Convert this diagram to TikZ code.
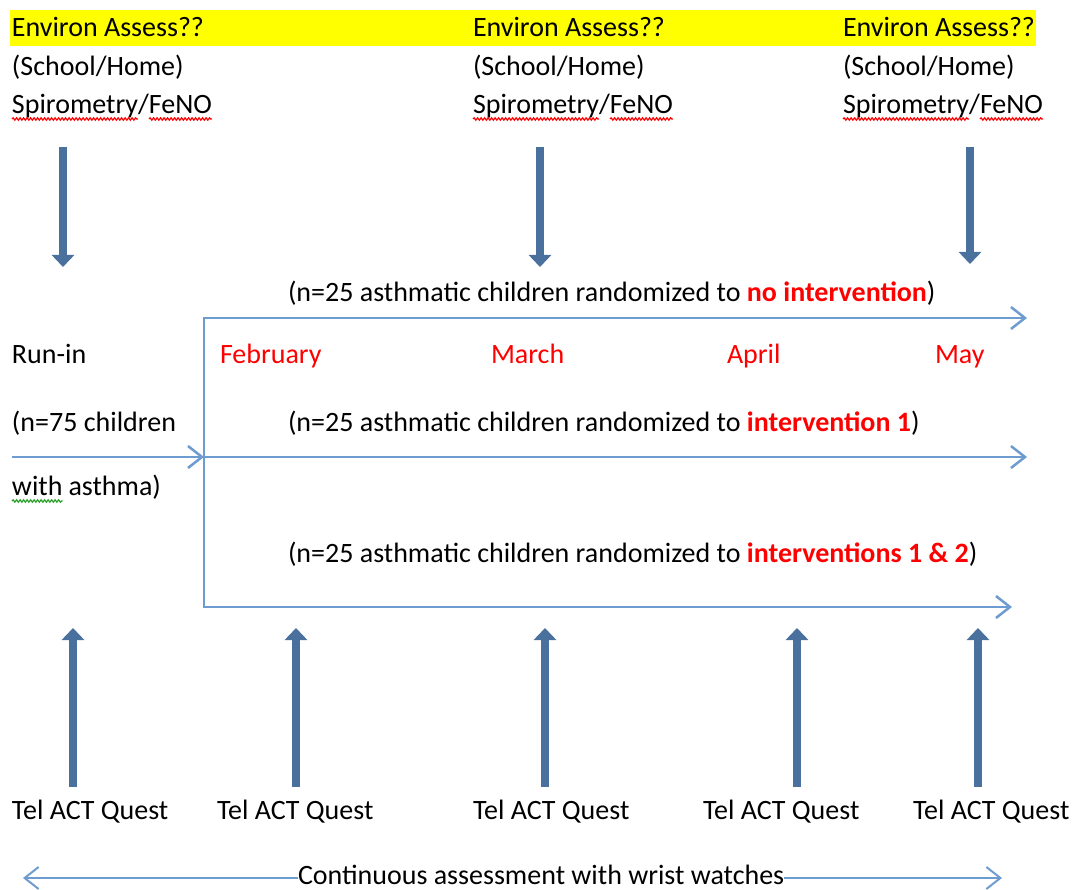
\documentclass[tikz,border=0pt]{standalone}
\usepackage{fontspec}
\setmainfont{Carlito}
\usetikzlibrary{arrows.meta,decorations.pathmorphing,calc}
\definecolor{thickblue}{RGB}{74,112,158}
\definecolor{thinblue}{RGB}{110,155,208}
\definecolor{hlyellow}{RGB}{255,255,0}
\definecolor{monthred}{RGB}{255,0,0}
\definecolor{spellgreen}{RGB}{40,160,40}
\begin{document}
\begin{tikzpicture}[x=1pt,y=-1pt,
  every node/.style={inner sep=0pt,outer sep=0pt,font=\fontsize{28}{33}\selectfont},
  txt/.style={anchor=base west},
  month/.style={anchor=base west,text=monthred},
  fatarrow/.style={draw=thickblue,line width=8pt,-{Triangle[width=22pt,length=12pt]}},
  thinarrow/.style={draw=thinblue,line width=2.5pt,-{Straight Barb[length=14pt,width=22pt]}},
  thinline/.style={draw=thinblue,line width=2.5pt},
  spell/.style={draw=#1,line width=1.2pt,decorate,decoration={snake,amplitude=1.2pt,segment length=3.5pt}}
]
\useasboundingbox (0,0) rectangle (1074,890);
% highlight bar
\fill[hlyellow] (10,10) rectangle (1036,46);
% top text columns
\foreach \n/\x in {a/12,b/473,c/843}{
  \node[txt] (env\n) at (\x,37) {Environ Assess??};
  \node[txt] (sch\n) at (\x,76) {(School/Home)};
  \node[txt] (spi\n) at (\x,114) {Spirometry};
  \node[anchor=base west] (sl\n) at (spi\n.base east) {/};
  \node[anchor=base west] (fe\n) at (sl\n.base east) {FeNO};
  \draw[spell=red] ($(spi\n.base west)+(0,5)$) -- ($(spi\n.base east)+(0,5)$);
  \draw[spell=red] ($(fe\n.base west)+(0,5)$) -- ($(fe\n.base east)+(0,5)$);
}
% down arrows
\coordinate (da1) at (63,147);  \coordinate (db1) at (63,267);
\coordinate (da2) at (540,147); \coordinate (db2) at (540,267);
\coordinate (da3) at (970,147); \coordinate (db3) at (970,264);
\draw[fatarrow] (da1) -- (db1);
\draw[fatarrow] (da2) -- (db2);
\draw[fatarrow] (da3) -- (db3);
% group labels
\node[txt] (g1) at (288,302) {(n=25 asthmatic children randomized to \textcolor{monthred}{\bfseries no intervention})};
\node[txt] (g2) at (288,432) {(n=25 asthmatic children randomized to \textcolor{monthred}{\bfseries intervention 1})};
\node[txt] (g3) at (288,562) {(n=25 asthmatic children randomized to \textcolor{monthred}{\bfseries interventions 1 \& 2})};
% months
\node[month] (feb) at (220,364) {February};
\node[month] (mar) at (491,364) {March};
\node[month] (apr) at (727,364) {April};
\node[month] (may) at (935,364) {May};
% run-in
\node[txt] (run) at (12,364) {Run-in};
\node[txt] (n75) at (12,432) {(n=75 children};
\node[txt] (with) at (12,496) {with};
\node[anchor=base west] (asth) at ($(with.base east)+(6,0)$) {asthma)};
\draw[spell=spellgreen] ($(with.base west)+(0,5)$) -- ($(with.base east)+(0,5)$);
% branching lines
\coordinate (tl) at (204,318); \coordinate (te) at (1027,318);
\coordinate (bl) at (204,607); \coordinate (be) at (1012,607);
\coordinate (jn) at (204,457); \coordinate (me) at (1027,457);
\coordinate (st) at (12,457);
\draw[thinline,{Straight Barb[length=14pt,width=22pt]}-{Straight Barb[length=14pt,width=22pt]}] (te) -- (tl) -- (bl) -- (be);
\draw[thinarrow] (st) -- (jn);
\draw[thinarrow] (jn) -- (me);
% up arrows and labels
\foreach \i/\ax/\tx in {1/73/12,2/296/217,3/545/473,4/797/703,5/978/913}{
  \node[txt] (tel\i) at (\tx,819) {Tel ACT Quest};
  \coordinate (ua\i) at (\ax,787);
  \coordinate (ub\i) at (\ax,628);
  \draw[fatarrow] (ua\i) -- (ub\i);
}
% continuous assessment
\node[anchor=base west] (cont) at (298,884) {Continuous assessment with wrist watches};
\coordinate (cl) at (23,878); \coordinate (cr) at (1002,878);
\draw[thinarrow,line width=2pt] (cont.west |- cl) -- (cl);
\draw[thinarrow,line width=2pt] (cont.east |- cr) -- (cr);
\end{tikzpicture}
\end{document}
